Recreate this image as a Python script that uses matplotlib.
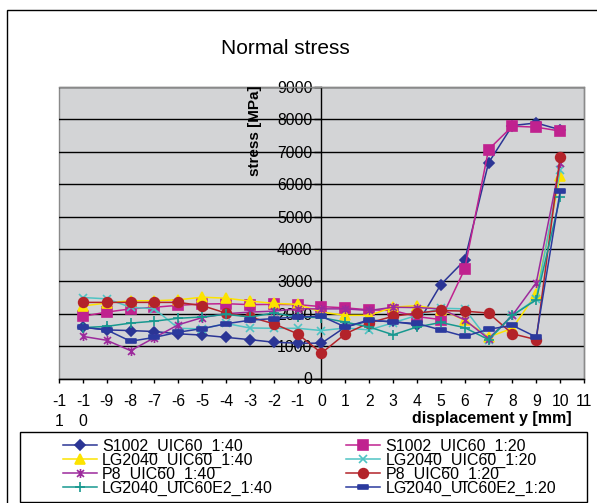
import matplotlib
matplotlib.use("Agg")
import matplotlib.pyplot as plt
from matplotlib.path import Path
from matplotlib.patches import Rectangle
import numpy as np

plt.rcParams['font.family'] = ['Liberation Sans', 'DejaVu Sans']

# ---------------- data ----------------
x_vals = list(range(-10, 11))
x_ticks = list(range(-11, 12))
x_tick_labels = ["-1\n1", "-1\n0"] + [str(v) for v in range(-9, 12)]
y_ticks = list(range(0, 9001, 1000))

title = "Normal stress"
x_label = "displacement y [mm]"
y_label = "stress [MPa]"

names = ["S1002_UIC60_1:40", "S1002_UIC60_1:20",
         "LG2040_UIC60_1:40", "LG2040_UIC60_1:20",
         "P8_UIC60_1:40", "P8_UIC60_1:20",
         "LG2040_UIC60E2_1:40", "LG2040_UIC60E2_1:20"]

s1002_40 = [1590, 1500, 1480, 1450, 1380, 1340, 1270, 1200, 1120, 1090, 1090,
            1590, 1780, 1760, 1660, 2900, 3650, 6660, 7810, 7890, 7680]
s1002_20 = [1920, 2050, 2150, 2200, 2260, 2300, 2310, 2280, 2290, 2280, 2220,
            2180, 2120, 2100, 1910, 1820, 3380, 7070, 7790, 7760, 7640]
lg_40 = [2240, 2330, 2400, 2400, 2430, 2510, 2480, 2390, 2320, 2290, 2050,
         1950, 1950, 2200, 2250, 2130, 1800, 1280, 1550, 2620, 6250]
lg_20 = [2500, 2460, 2200, 2150, 1550, 1530, 1700, 1560, 1550, 1550, 1480,
         1560, 1500, 1720, 1950, 2170, 2150, 1180, 1950, 2460, 6440]
p8_40 = [1300, 1180, 860, 1260, 1660, 1880, 2000, 2050, 2080, 2150, 2150,
         2150, 2100, 2200, 2190, 2150, 1810, 1230, 1950, 2960, 6640]
p8_20 = [2350, 2350, 2350, 2350, 2350, 2250, 2020, 1900, 1690, 1380, 785,
         1380, 1720, 1920, 2020, 2100, 2080, 2020, 1380, 1200, 6850]
e2_40 = [1570, 1610, 1710, 1770, 1860, 1900, 1980, 1900, 2020, 1900, 1880,
         1740, 1590, 1350, 1590, 1730, 1570, 1200, 1950, 2430, 5600]
e2_20 = [1580, 1500, 1150, 1270, 1430, 1540, 1690, 1800, 1850, 1900, 1920,
         1590, 1810, 1740, 1700, 1500, 1300, 1520, 1640, 1280, 5780]

series = [s1002_40, s1002_20, lg_40, lg_20, p8_40, p8_20, e2_40, e2_20]

# ---------------- styles ----------------
colors = ['#2B3595', '#C0228F', '#FCE300', '#4FC3C3',
          '#9C2A9C', '#B3232A', '#17988F', '#2B3A9E']

star_path = Path([(-1, -1), (1, 1), (-1, 1), (1, -1), (0, -1.3), (0, 1.3)],
                 [Path.MOVETO, Path.LINETO, Path.MOVETO, Path.LINETO,
                  Path.MOVETO, Path.LINETO])
rect_path = Path([(-1, -0.45), (1, -0.45), (1, 0.45), (-1, 0.45), (-1, -0.45)],
                 [Path.MOVETO, Path.LINETO, Path.LINETO, Path.LINETO,
                  Path.CLOSEPOLY])
markers = ['D', 's', '^', 'x', star_path, 'o', '+', rect_path]
msizes = [5.5, 6.5, 7, 6, 6.5, 7, 7, 7]

W, H = 597, 503
fig = plt.figure(figsize=(W / 100, H / 100), dpi=100)
fig.patch.set_facecolor('white')

def fx(px):
    return px / W

def fy(py):
    return 1 - py / H

left, right, top, bottom = 59, 584, 87, 378.5
ax = fig.add_axes([fx(left), fy(bottom), fx(right) - fx(left), fy(top) - fy(bottom)])
ax.set_facecolor('#D3D4D6')

lines = []
for vals, c, m, ms in zip(series, colors, markers, msizes):
    ln, = ax.plot(x_vals, vals, color=c, lw=1.1, marker=m, ms=ms,
                  markerfacecolor=c, markeredgecolor=c, mew=1.2, zorder=3,
                  clip_on=False)
    lines.append(ln)

ax.set_xlim(-11, 11)
ax.set_ylim(0, 9000)
ax.set_xticks(x_ticks)
ax.set_xticklabels(x_tick_labels)
ax.set_yticks(y_ticks)
ax.set_yticklabels([str(v) for v in y_ticks])

ax.yaxis.grid(True, color='black', lw=1.0, zorder=1)
ax.set_axisbelow(True)
ax.get_ygridlines()[-1].set_visible(False)

for s in ['top', 'right']:
    ax.spines[s].set_color('#8A8A8A')
    ax.spines[s].set_linewidth(1.0)
ax.spines['left'].set_position(('data', 0))
ax.spines['left'].set_color('black')
ax.spines['left'].set_linewidth(1.0)
ax.spines['bottom'].set_color('black')
ax.spines['bottom'].set_linewidth(1.0)
ax.add_patch(Rectangle((0, 0), 1, 1, transform=ax.transAxes, fill=False,
                       ec='#8A8A8A', lw=1.0, zorder=0.5, clip_on=False))

ax.tick_params(axis='y', direction='out', length=5, width=1, pad=1.5,
               labelsize=11.3, colors='black')
ax.tick_params(axis='x', direction='out', length=3, width=1, pad=8.5,
               labelsize=11.3, colors='black')
for lbl in ax.get_xticklabels():
    lbl.set_linespacing(1.4)

fig.text(fx(285), fy(48), title, ha='center', va='center', fontsize=15)
fig.text(fx(255), fy(131), y_label, ha='center', va='center', rotation=90,
         fontsize=11, fontweight='bold')
fig.text(fx(491.5), fy(419), x_label, ha='center', va='center',
         fontsize=11.5, fontweight='bold')

# outer chart border (only left and top visible)
fig.add_artist(Rectangle((fx(6.5), -0.2), 2, fy(9.5) + 0.2,
                         transform=fig.transFigure, fill=False, ec='black', lw=1))
# legend box
fig.add_artist(Rectangle((fx(20), fy(502)), fx(587) - fx(20), fy(432) - fy(502),
                         transform=fig.transFigure, fill=False, ec='black', lw=1))

order = [0, 2, 4, 6, 1, 3, 5, 7]
leg = fig.legend([lines[i] for i in order], [names[i] for i in order],
                 ncol=2, loc='upper left', bbox_to_anchor=(fx(63), fy(439)),
                 frameon=False, fontsize=11.5, borderpad=0, handlelength=2.1,
                 handletextpad=0.35, columnspacing=4.6, labelspacing=-0.08,
                 numpoints=1, borderaxespad=0)

fig.savefig("out.png", dpi=100)
